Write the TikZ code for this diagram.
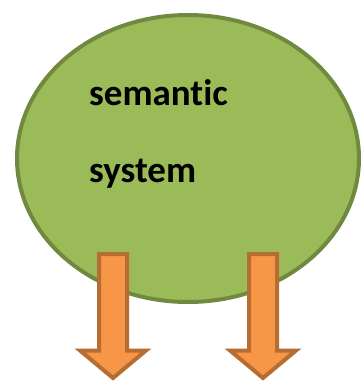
\documentclass[tikz,border=0pt]{standalone}
\usepackage{fontspec}
\setmainfont[Ligatures=NoCommon]{Carlito}
\usetikzlibrary{shapes.geometric}
\begin{document}
\begin{tikzpicture}[x=1pt,y=-1pt]
  \definecolor{leafgreen}{HTML}{9BBB59}
  \definecolor{leafedge}{HTML}{71893F}
  \definecolor{arroworange}{HTML}{F79646}
  \definecolor{arrowedge}{HTML}{B66D31}
  \tikzset{
    blob/.style={draw=leafedge, fill=leafgreen, line width=4pt},
    downarrow/.style={draw=arrowedge, fill=arroworange, line width=4pt, line join=miter},
    label/.style={anchor=base west, inner sep=0pt, font=\fontsize{37}{40}\selectfont\bfseries}
  }
  \useasboundingbox (0,0) rectangle (361,383);

  % the system as an ellipse
  \node[blob, ellipse, minimum width=342pt, minimum height=287pt, inner sep=0pt] (sys) at (188,158.5) {};
  \node[label] (t1) at (89,105) {semantic};
  \node[label] (t2) at (89,182) {system};

  % two outgoing block arrows
  \foreach \cx/\nm in {113/la, 263/ra} {
    \coordinate (\nm) at (\cx,0);
    \draw[downarrow] ([xshift=-14pt,yshift=-254pt]\nm) -- ([xshift=14pt,yshift=-254pt]\nm)
      -- ([xshift=14pt,yshift=-350.5pt]\nm) -- ([xshift=33pt,yshift=-350.5pt]\nm)
      -- ([yshift=-378pt]\nm) -- ([xshift=-33pt,yshift=-350.5pt]\nm)
      -- ([xshift=-14pt,yshift=-350.5pt]\nm) -- cycle;
  }
\end{tikzpicture}
\end{document}
